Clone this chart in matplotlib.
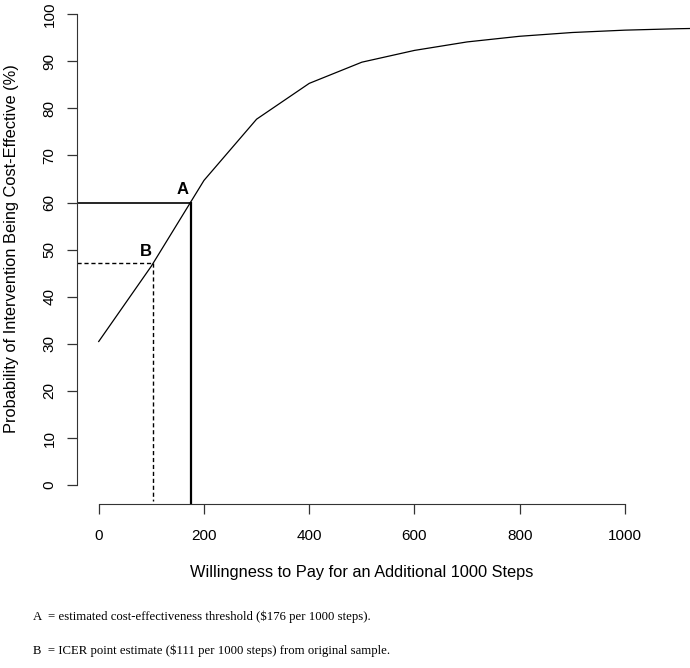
import matplotlib.pyplot as plt

# willingness to pay (per 1000 steps) and probability cost-effective (%)
wtp = [0, 100, 200, 300, 400, 500, 600, 700, 800, 900, 1000, 1100, 1200]
prob = [30.5, 46.5, 64.7, 77.7, 85.3, 89.8, 92.3, 94.1, 95.3, 96.1, 96.6, 96.9, 97.1]

threshold_x, threshold_y = 176, 60.0   # A
icer_x, icer_y = 104, 47.1             # B

xticks = [0, 200, 400, 600, 800, 1000]
yticks = [0, 10, 20, 30, 40, 50, 60, 70, 80, 90, 100]

W, H = 690, 668
fig = plt.figure(figsize=(W / 100, H / 100), dpi=100)
ax = fig.add_axes([77.3 / W, (H - 504) / H, (W - 77.3) / W, 504 / H])

ax.plot(wtp, prob, color='black', lw=0.9, clip_on=True)

x0, x1 = -40.7, 1123.5
y0, y1 = -4.0, 103.0
ax.set_xlim(x0, x1)
ax.set_ylim(y0, y1)

# A: threshold lines
ax.plot([x0, threshold_x], [threshold_y, threshold_y], color='black', lw=1.2)
ax.plot([threshold_x, threshold_x], [threshold_y, y0], color='black', lw=1.6)
# B: ICER dashed lines
ax.plot([x0, icer_x], [icer_y, icer_y], color='black', lw=1.0, ls=(0, (3, 2)))
ax.plot([icer_x, icer_x], [icer_y, y0 + 0.6], color='black', lw=1.0, ls=(0, (3, 2)))

ax.text(160, 62.7, 'A', fontsize=12, fontweight='bold', family='Liberation Sans',
        ha='center', va='center')
ax.text(90, 49.5, 'B', fontsize=12, fontweight='bold', family='Liberation Sans',
        ha='center', va='center')

for s in ['top', 'right']:
    ax.spines[s].set_visible(False)
ax.spines['left'].set_bounds(0, 100)
ax.spines['bottom'].set_bounds(0, 1000)
ax.spines['left'].set_color('#333333')
ax.spines['bottom'].set_color('#333333')

ax.set_xticks(xticks)
ax.set_yticks(yticks)
ax.set_xticklabels([str(v) for v in xticks], family='Liberation Sans', fontsize=11)
ax.set_yticklabels([str(v) for v in yticks], family='Liberation Sans', fontsize=11,
                   rotation=90, va='center')
ax.tick_params(direction='out', length=7, width=0.9, color='#333333', pad=8)
ax.tick_params(axis='x', pad=11)

fig.text(362 / W, 1 - 573 / H, 'Willingness to Pay for an Additional 1000 Steps',
         family='Liberation Sans', fontsize=11.8, ha='center', va='center')
fig.text(12 / W, 1 - 249 / H, 'Probability of Intervention Being Cost-Effective (%)',
         family='Liberation Sans', fontsize=11.8, ha='center', va='center', rotation=90)

fig.text(33 / W, 1 - 617 / H, 'A  = estimated cost-effectiveness threshold ($176 per 1000 steps).',
         family='Liberation Serif', fontsize=9.2, ha='left', va='center')
fig.text(33 / W, 1 - 651 / H, 'B  = ICER point estimate ($111 per 1000 steps) from original sample.',
         family='Liberation Serif', fontsize=9.2, ha='left', va='center')

fig.savefig('out.png', dpi=100)
